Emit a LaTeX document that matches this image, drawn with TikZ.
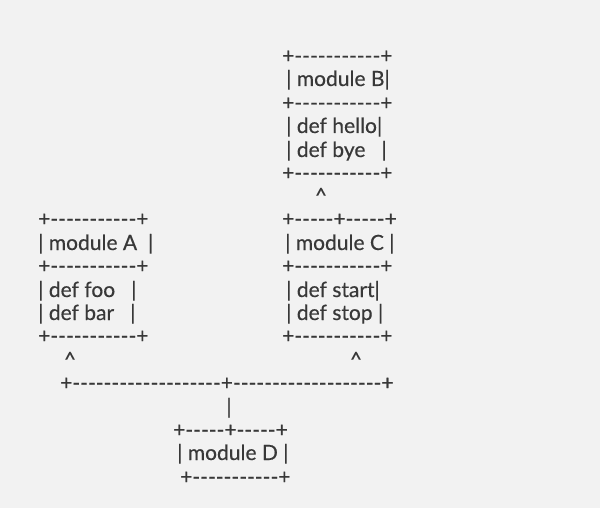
\documentclass[tikz,border=0pt]{standalone}
\usepackage{fontspec}
\newfontfamily\asciifont{Lato}[Ligatures=TeXOff, FakeBold=0.4]
\usepackage{xcolor}
\definecolor{paper}{HTML}{F2F2F2}
\definecolor{ink}{HTML}{383838}

\begin{document}
\begin{tikzpicture}[
  x=1pt, y=-1pt,
  line/.style={anchor=base west, inner sep=0pt, text=ink, font=\asciifont\fontsize{21}{23}\selectfont},
  tip/.style={anchor=base, inner sep=0pt, text=ink, font=\asciifont\fontsize{21}{23}\selectfont}
]
\useasboundingbox[fill=paper] (0,0) rectangle (600,508);

% module B
\node[line] (btop)   at (282,63)  {+-----------+};
\node[line] (bname)  at (286,86)  {| module B|};
\node[line] (bmid)   at (282,110) {+-----------+};
\node[line] (bhello) at (286,133) {| def hello|};
\node[line] (bbye)   at (286,157) {| def bye~~~|};
\node[line] (bbot)   at (282,180) {+-----------+};
\node[tip]  (bup)    at (321,203) {\textasciicircum};

% module A
\node[line] (atop)   at (38,226)  {+-----------+};
\node[line] (aname)  at (38,250)  {| module A~~|};
\node[line] (amid)   at (38,273)  {+-----------+};
\node[line] (afoo)   at (38,297)  {| def foo~~~|};
\node[line] (abar)   at (38,320)  {| def bar~~~|};
\node[line] (abot)   at (38,343)  {+-----------+};

% module C
\node[line] (ctop)   at (282,226) {+-----+-----+};
\node[line] (cname)  at (285,250) {| module C |};
\node[line] (cmid)   at (282,273) {+-----------+};
\node[line] (cstart) at (286,297) {| def start|};
\node[line] (cstop)  at (286,320) {| def stop |};
\node[line] (cbot)   at (282,343) {+-----------+};

% module D
\node[tip]  (aup)    at (70,367)  {\textasciicircum};
\node[tip]  (cup)    at (356,367) {\textasciicircum};
\node[line] (split)  at (60,390)  {+-------------------+-------------------+};
\node[tip]  (stem)   at (229,414) {|};
\node[line] (dtop)   at (173,437) {+-----+-----+};
\node[line] (dname)  at (177,460) {| module D |};
\node[line] (dbot)   at (180,484) {+-----------+};
\end{tikzpicture}
\end{document}
